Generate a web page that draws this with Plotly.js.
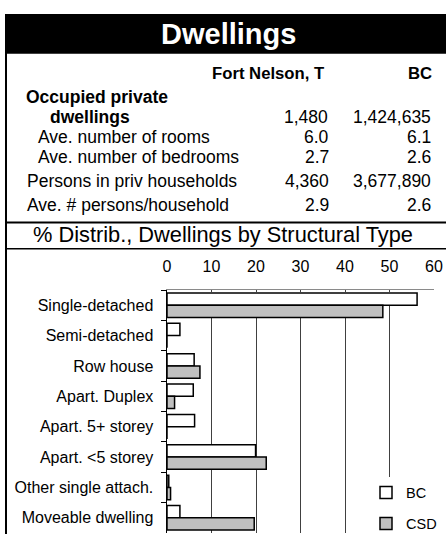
<!DOCTYPE html>
<html>
<head>
<meta charset="utf-8">
<script src="https://cdn.plot.ly/plotly-3.0.1.min.js"></script>
<style>
  html, body { margin: 0; padding: 0; background: #ffffff; }
  #chart { width: 446px; height: 540px; }
</style>
</head>
<body>
<div id="chart"></div>
<script>
// ---- data ----
const categories = ["Single-detached", "Semi-detached", "Row house", "Apart. Duplex",
                    "Apart. 5+ storey", "Apart. <5 storey", "Other single attach.", "Moveable dwelling"];
const bcValues  = [56.2, 2.9, 6.1, 5.9, 6.2, 19.9, 0.4, 2.9];
const csdValues = [48.5, 0, 7.4, 1.7, 0, 22.3, 0.8, 19.6];
const xTicks = [0, 10, 20, 30, 40, 50, 60];

const chartTitle = "Dwellings";
const subTitle = "% Distrib., Dwellings by Structural Type";
const colHeaders = ["Fort Nelson, T", "BC"];
const rowLabels = ["Ave. number of rooms", "Ave. number of bedrooms", "Persons in priv households", "Ave. # persons/household"];
const csdStats = ["6.0", "2.7", "4,360", "2.9"];
const bcStats  = ["6.1", "2.6", "3,677,890", "2.6"];
const occupiedLabel = ["Occupied private", "dwellings"];
const occupiedValues = ["1,480", "1,424,635"];

// ---- geometry helpers (pixel -> paper) ----
const W = 446, H = 540;
const PL = 167, PR = 434, PT = 290, PB = 540;
const px = x => (x - PL) / (PR - PL);
const py = y => (PB - y) / (PB - PT);
const FONT = "Liberation Sans, Arial, sans-serif";

const annotations = [];
function txt(text, x, y, anchor, size, bold, color) {
  annotations.push({
    text: bold ? "<b>" + text + "</b>" : text,
    x: px(x), y: py(y), xref: "paper", yref: "paper",
    xanchor: anchor, yanchor: "middle", showarrow: false,
    font: { family: FONT, size: size, color: color || "#000000" },
    borderpad: 0
  });
}
txt(chartTitle, 228, 27, "center", 29, true, "#ffffff");
txt(colHeaders[0], 326, 67, "right", 16.7, true);
txt(colHeaders[1], 433, 67, "right", 16.7, true);
txt(occupiedLabel[0], 25, 91, "left", 17.5, true);
txt(occupiedLabel[1], 49, 112, "left", 17.5, true);
txt(occupiedValues[0], 329, 112, "right", 17.5, false);
txt(occupiedValues[1], 432, 112, "right", 17.5, false);
const rowY = [133, 153, 178, 203];
const rowX = [37, 37, 26, 26];
for (let i = 0; i < rowLabels.length; i++) {
  txt(rowLabels[i], rowX[i], rowY[i], "left", 17.5, false);
  txt(csdStats[i], 330, rowY[i], "right", 17.5, false);
  txt(bcStats[i], 432, rowY[i], "right", 17.5, false);
}
txt(subTitle, 223, 233, "center", 21.8, false);

const shapes = [
  { type: "rect", xref: "paper", yref: "paper", x0: px(5), x1: px(447), y0: py(6), y1: py(47),
    fillcolor: "#000000", line: { width: 0 }, layer: "above" },
  { type: "line", xref: "paper", yref: "paper", x0: px(6), x1: px(6), y0: py(6), y1: py(541),
    line: { color: "#000000", width: 2 } },
  { type: "line", xref: "paper", yref: "paper", x0: px(5), x1: px(447), y0: py(220.5), y1: py(220.5),
    line: { color: "#000000", width: 2 } },
  { type: "line", xref: "paper", yref: "paper", x0: px(5), x1: px(447), y0: py(247.5), y1: py(247.5),
    line: { color: "#000000", width: 1.5 } }
];

const traces = [
  { type: "bar", orientation: "h", name: "BC", y: categories, x: bcValues,
    marker: { color: "#ffffff", line: { color: "#000000", width: 1.5 } },
    legendgroup: "a" },
  { type: "bar", orientation: "h", name: "CSD", y: categories, x: csdValues,
    marker: { color: "#c0c0c0", line: { color: "#000000", width: 1.5 } },
    legendgroup: "b" }
];

const layout = {
  width: W, height: H, autosize: false,
  margin: { l: PL, r: W - PR, t: PT, b: H - PB, pad: 0 },
  paper_bgcolor: "#ffffff", plot_bgcolor: "#ffffff",
  font: { family: FONT, size: 16, color: "#000000" },
  barmode: "group", bargap: 0.19, bargroupgap: 0,
  xaxis: {
    side: "top", range: [0, 60], tickvals: xTicks, ticktext: xTicks.map(String),
    showgrid: true, gridcolor: "#404040", gridwidth: 1,
    showline: true, linecolor: "#8a8a8a", linewidth: 1.5,
    ticks: "inside", ticklen: 3, tickcolor: "#404040",
    tickfont: { family: FONT, size: 16, color: "#000000" },
    ticklabelstandoff: 10, zeroline: false, fixedrange: true
  },
  yaxis: {
    type: "category", autorange: "reversed",
    showgrid: false, showline: true, linecolor: "#000000", linewidth: 1.5,
    ticks: "outside", tickson: "boundaries", ticklen: 5, tickcolor: "#000000",
    tickfont: { family: FONT, size: 16, color: "#000000" },
    ticklabelstandoff: 9, zeroline: false, fixedrange: true
  },
  showlegend: true,
  legend: {
    x: px(366), y: py(482), xanchor: "left", yanchor: "top",
    bgcolor: "#ffffff", borderwidth: 0,
    font: { family: FONT, size: 14.5, color: "#000000" },
    traceorder: "grouped", tracegroupgap: 9, itemwidth: 30
  },
  shapes: shapes,
  annotations: annotations
};

Plotly.newPlot("chart", traces, layout, { staticPlot: true, displayModeBar: false });
</script>
</body>
</html>
